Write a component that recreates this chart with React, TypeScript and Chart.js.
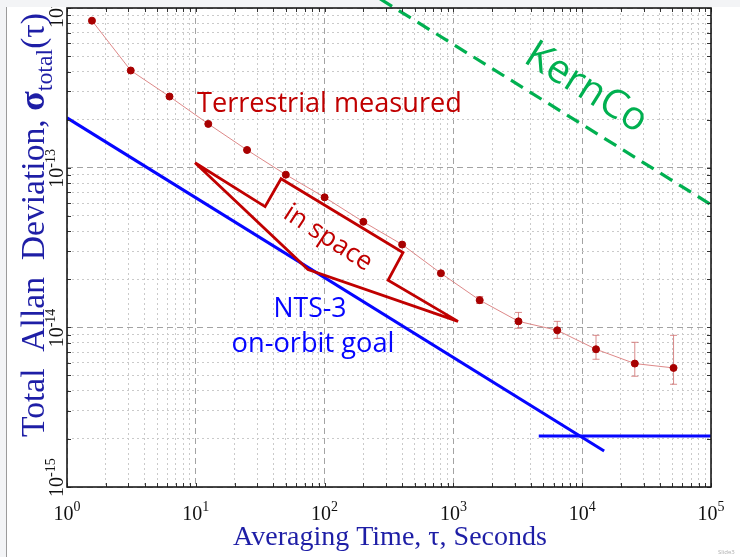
import React, { useEffect, useRef } from 'react';
import { Chart, registerables } from 'chart.js';

Chart.register(...registerables);

// ---------- data ----------
const tau = [1.5625, 3.125, 6.25, 12.5, 25, 50, 100, 200, 400, 800, 1600, 3200, 6400, 12800, 25600, 51200];
const sigmaTerrestrial = [
  8.33e-13, 4.06e-13, 2.79e-13, 1.88e-13, 1.29e-13, 9.04e-14, 6.52e-14, 4.58e-14,
  3.3e-14, 2.18e-14, 1.48e-14, 1.09e-14, 9.58e-15, 7.29e-15, 5.93e-15, 5.57e-15,
];
const errLow = [null, null, null, null, null, null, null, null, null, null, 1.41e-14, 9.86e-15, 8.53e-15, 6.31e-15, 4.94e-15, 4.4e-15];
const errHigh = [null, null, null, null, null, null, null, null, null, null, 1.56e-14, 1.24e-14, 1.09e-14, 8.91e-15, 8.06e-15, 8.91e-15];

const nts3GoalTau = [1, 14800];
const nts3GoalSigma = [2.05e-13, 1.68e-15];
const nts3FloorTau = [4600, 100000];
const nts3FloorSigma = [2.09e-15, 2.09e-15];

const kernCoTau = [270, 100000];
const kernCoSigma = [1.14e-12, 5.87e-14];

const inSpaceTau = [9.86, 34.5, 45.9, 406, 311, 1086, 74.3, 9.86];
const inSpaceSigma = [1.074e-13, 5.7e-14, 8.53e-14, 2.94e-14, 1.97e-14, 1.09e-14, 2.3e-14, 1.074e-13];

const xDecades = [0, 1, 2, 3, 4, 5];
const yDecades = [-15, -14, -13, -12];
const minorMultipliers = [2, 3, 4, 5, 6, 7, 8, 9];
const xTickExponents = ['0', '1', '2', '3', '4', '5'];
const yTickExponents = ['-15', '-14', '-13', '-12'];

const xTitle = 'Averaging Time, τ, Seconds';
const yTitleParts = ['Total  Allan  Deviation, ', 'σ', 'total', '(τ)'];

// ---------- helpers ----------
const SERIF = '"Liberation Serif", "DejaVu Serif", serif';
const SANS = '"Open Sans", "Noto Sans", sans-serif';
const AXIS_BLUE = '#1e1ea6';
const GOAL_BLUE = '#0606ff';

function buildTicks(decades: number[]) {
  const vals: number[] = [];
  decades.forEach((d, i) => {
    const base = Math.pow(10, d);
    vals.push(base);
    if (i < decades.length - 1) minorMultipliers.forEach((m) => vals.push(m * base));
  });
  return vals;
}
const xTickValues = buildTicks(xDecades);
const yTickValues = buildTicks(yDecades);

const isMajor = (v: number) => {
  const l = Math.log10(v);
  return Math.abs(l - Math.round(l)) < 1e-9;
};

function fitSize(ctx: CanvasRenderingContext2D, text: string, family: string, weight: string, target: number) {
  ctx.font = `${weight} 100px ${family}`;
  return (100 * target) / ctx.measureText(text).width;
}

const decorPlugin = {
  id: 'decor',
  beforeDraw(chart: any) {
    const { ctx, width, height } = chart;
    ctx.save();
    ctx.fillStyle = '#f3f4f6';
    ctx.fillRect(0, 0, width, height);
    ctx.fillStyle = '#ffffff';
    ctx.fillRect(7, 7, width - 7, height - 7);
    ctx.strokeStyle = '#9b9b9b';
    ctx.lineWidth = 1;
    ctx.beginPath();
    ctx.moveTo(6.5, 7);
    ctx.lineTo(6.5, height);
    ctx.stroke();
    ctx.restore();
  },
  beforeDatasetsDraw(chart: any) {
    const { ctx } = chart;
    const xs = chart.scales.x;
    const ys = chart.scales.y;
    ctx.save();
    ctx.strokeStyle = 'rgba(205,100,100,0.75)';
    ctx.lineWidth = 1;
    tau.forEach((t, i) => {
      const lo = errLow[i];
      const hi = errHigh[i];
      if (lo == null || hi == null) return;
      const x = xs.getPixelForValue(t);
      const y1 = ys.getPixelForValue(lo);
      const y2 = ys.getPixelForValue(hi);
      ctx.beginPath();
      ctx.moveTo(x, y1);
      ctx.lineTo(x, y2);
      ctx.moveTo(x - 3.5, y1);
      ctx.lineTo(x + 3.5, y1);
      ctx.moveTo(x - 3.5, y2);
      ctx.lineTo(x + 3.5, y2);
      ctx.stroke();
    });
    ctx.restore();
  },
  afterDraw(chart: any) {
    const { ctx, chartArea } = chart;
    const { left, right, top, bottom } = chartArea;
    const xs = chart.scales.x;
    const ys = chart.scales.y;
    ctx.save();

    // inner tick marks
    ctx.strokeStyle = '#333';
    ctx.lineWidth = 1;
    ctx.beginPath();
    xTickValues.forEach((v) => {
      const x = Math.round(xs.getPixelForValue(v)) + 0.5;
      ctx.moveTo(x, bottom);
      ctx.lineTo(x, bottom - 4);
      ctx.moveTo(x, top);
      ctx.lineTo(x, top + 4);
    });
    yTickValues.forEach((v) => {
      const y = Math.round(ys.getPixelForValue(v)) + 0.5;
      ctx.moveTo(left, y);
      ctx.lineTo(left + 4, y);
      ctx.moveTo(right, y);
      ctx.lineTo(right - 4, y);
    });
    ctx.stroke();

    // frame
    ctx.strokeStyle = '#1a1a1a';
    ctx.lineWidth = 1.6;
    ctx.strokeRect(left, top, right - left, bottom - top);

    // x tick labels
    ctx.fillStyle = '#111';
    ctx.textBaseline = 'alphabetic';
    xDecades.forEach((d, i) => {
      const x = xs.getPixelForValue(Math.pow(10, d));
      ctx.font = `20px ${SERIF}`;
      const w1 = ctx.measureText('10').width;
      ctx.font = `14px ${SERIF}`;
      const w2 = ctx.measureText(xTickExponents[i]).width;
      const start = x - (w1 + w2) / 2;
      ctx.font = `20px ${SERIF}`;
      ctx.textAlign = 'left';
      ctx.fillText('10', start, 520);
      ctx.font = `14px ${SERIF}`;
      ctx.fillText(xTickExponents[i], start + w1, 511);
    });

    // y tick labels (rotated), clipped to white panel
    ctx.save();
    ctx.beginPath();
    ctx.rect(7, 7, chart.width - 7, chart.height - 7);
    ctx.clip();
    yDecades.forEach((d, i) => {
      const y = ys.getPixelForValue(Math.pow(10, d));
      const shift = i === 0 ? 10 : 0;
      ctx.save();
      ctx.translate(63, y);
      ctx.rotate(-Math.PI / 2);
      ctx.font = `20px ${SERIF}`;
      ctx.textAlign = 'right';
      ctx.fillText('10', shift, 0);
      ctx.font = `14px ${SERIF}`;
      ctx.textAlign = 'left';
      ctx.fillText(yTickExponents[i], shift, -8);
      ctx.restore();
    });
    ctx.restore();

    // x axis title
    ctx.fillStyle = AXIS_BLUE;
    const xs1 = fitSize(ctx, xTitle, SERIF, '', 314);
    ctx.font = `${xs1}px ${SERIF}`;
    ctx.textAlign = 'center';
    ctx.fillText(xTitle, 390, 545);

    // y axis title with subscript
    ctx.save();
    ctx.translate(44, 225);
    ctx.rotate(-Math.PI / 2);
    const fonts = [`24px ${SERIF}`, `bold 26px ${SERIF}`, `17px ${SERIF}`, `24px ${SERIF}`];
    const dys = [0, 0, 6, 0];
    let total = 0;
    const widths = yTitleParts.map((p, i) => {
      ctx.font = fonts[i];
      const w = ctx.measureText(p).width;
      total += w;
      return w;
    });
    const k = 424 / total;
    ctx.scale(k, k);
    let u = -total / 2;
    ctx.textAlign = 'left';
    yTitleParts.forEach((p, i) => {
      ctx.font = fonts[i];
      ctx.fillText(p, u, dys[i]);
      u += widths[i];
    });
    ctx.restore();

    // annotations
    const terr = 'Terrestrial measured';
    ctx.fillStyle = '#c00000';
    ctx.font = `${fitSize(ctx, terr, SANS, '', 265)}px ${SANS}`;
    ctx.textAlign = 'left';
    ctx.fillText(terr, 197, 112);

    ctx.save();
    ctx.translate(328, 238);
    ctx.rotate((33 * Math.PI) / 180);
    ctx.font = `${fitSize(ctx, 'in space', SANS, '', 100)}px ${SANS}`;
    ctx.textAlign = 'center';
    ctx.textBaseline = 'middle';
    ctx.fillText('in space', 0, 0);
    ctx.restore();

    ctx.fillStyle = GOAL_BLUE;
    ctx.textAlign = 'center';
    ctx.font = `${fitSize(ctx, 'NTS-3', SANS, '', 73)}px ${SANS}`;
    ctx.fillText('NTS-3', 310, 317);
    ctx.font = `${fitSize(ctx, 'on-orbit goal', SANS, '', 163)}px ${SANS}`;
    ctx.fillText('on-orbit goal', 313, 352);

    ctx.save();
    ctx.translate(586, 88);
    ctx.rotate((32 * Math.PI) / 180);
    ctx.fillStyle = '#00b050';
    ctx.font = `${fitSize(ctx, 'KernCo', SANS, '', 136)}px ${SANS}`;
    ctx.textAlign = 'center';
    ctx.textBaseline = 'middle';
    ctx.fillText('KernCo', 0, 0);
    ctx.restore();

    ctx.fillStyle = '#b0b0b0';
    ctx.font = `6px ${SANS}`;
    ctx.textAlign = 'left';
    ctx.textBaseline = 'alphabetic';
    ctx.fillText('Slide3', 718, 554);

    ctx.restore();
  },
};

const gridColor = (c: any) => (c.tick && isMajor(c.tick.value) ? '#a3a3a3' : '#cacaca');
const gridDash = (c: any) => (c.tick ? (isMajor(c.tick.value) ? [6, 4] : [2, 3]) : []);

export default function App() {
  const ref = useRef<HTMLCanvasElement>(null);
  useEffect(() => {
    const canvas = ref.current;
    if (!canvas) return;
    const chart = new Chart(canvas, {
      type: 'line',
      data: {
        datasets: [
          {
            label: 'in space',
            data: inSpaceTau.map((t, i) => ({ x: t, y: inSpaceSigma[i] })),
            borderColor: '#c00000',
            borderWidth: 2.8,
            pointRadius: 0,
            borderJoinStyle: 'miter',
            fill: false,
          },
          {
            label: 'Terrestrial measured',
            data: tau.map((t, i) => ({ x: t, y: sigmaTerrestrial[i] })),
            borderColor: 'rgba(215,115,115,0.85)',
            borderWidth: 1,
            pointRadius: 3.5,
            pointBackgroundColor: '#a80000',
            pointBorderColor: '#a80000',
            pointBorderWidth: 1,
            fill: false,
          },
          {
            label: 'NTS-3 on-orbit goal',
            data: nts3GoalTau.map((t, i) => ({ x: t, y: nts3GoalSigma[i] })),
            borderColor: GOAL_BLUE,
            borderWidth: 3,
            pointRadius: 0,
            fill: false,
          },
          {
            label: 'NTS-3 floor',
            data: nts3FloorTau.map((t, i) => ({ x: t, y: nts3FloorSigma[i] })),
            borderColor: GOAL_BLUE,
            borderWidth: 3,
            pointRadius: 0,
            fill: false,
          },
          {
            label: 'KernCo',
            data: kernCoTau.map((t, i) => ({ x: t, y: kernCoSigma[i] })),
            borderColor: '#00b050',
            borderWidth: 3.2,
            borderDash: [14, 8],
            pointRadius: 0,
            fill: false,
            clip: false,
          },
        ],
      },
      options: {
        responsive: false,
        animation: false,
        devicePixelRatio: 1,
        events: [],
        layout: { padding: { left: 67, top: 8, right: 29, bottom: 70 } },
        plugins: {
          legend: { display: false },
          tooltip: { enabled: false },
          title: { display: false },
        },
        scales: {
          x: {
            type: 'logarithmic',
            min: 1,
            max: 1e5,
            afterBuildTicks: (scale: any) => {
              scale.ticks = xTickValues.map((v) => ({ value: v, major: isMajor(v) }));
            },
            ticks: { display: false },
            grid: { drawTicks: false, color: gridColor, lineWidth: 1 },
            border: { display: false, dash: gridDash },
          },
          y: {
            type: 'logarithmic',
            min: 1e-15,
            max: 1e-12,
            afterBuildTicks: (scale: any) => {
              scale.ticks = yTickValues.map((v) => ({ value: v, major: isMajor(v) }));
            },
            ticks: { display: false },
            grid: { drawTicks: false, color: gridColor, lineWidth: 1 },
            border: { display: false, dash: gridDash },
          },
        },
      },
      plugins: [decorPlugin],
    } as any);
    return () => chart.destroy();
  }, []);
  return (
    <div style={{ position: 'fixed', left: 0, top: 0, width: 740, height: 557 }}>
      <canvas ref={ref} width={740} height={557} style={{ display: 'block', width: 740, height: 557 }} />
    </div>
  );
}
